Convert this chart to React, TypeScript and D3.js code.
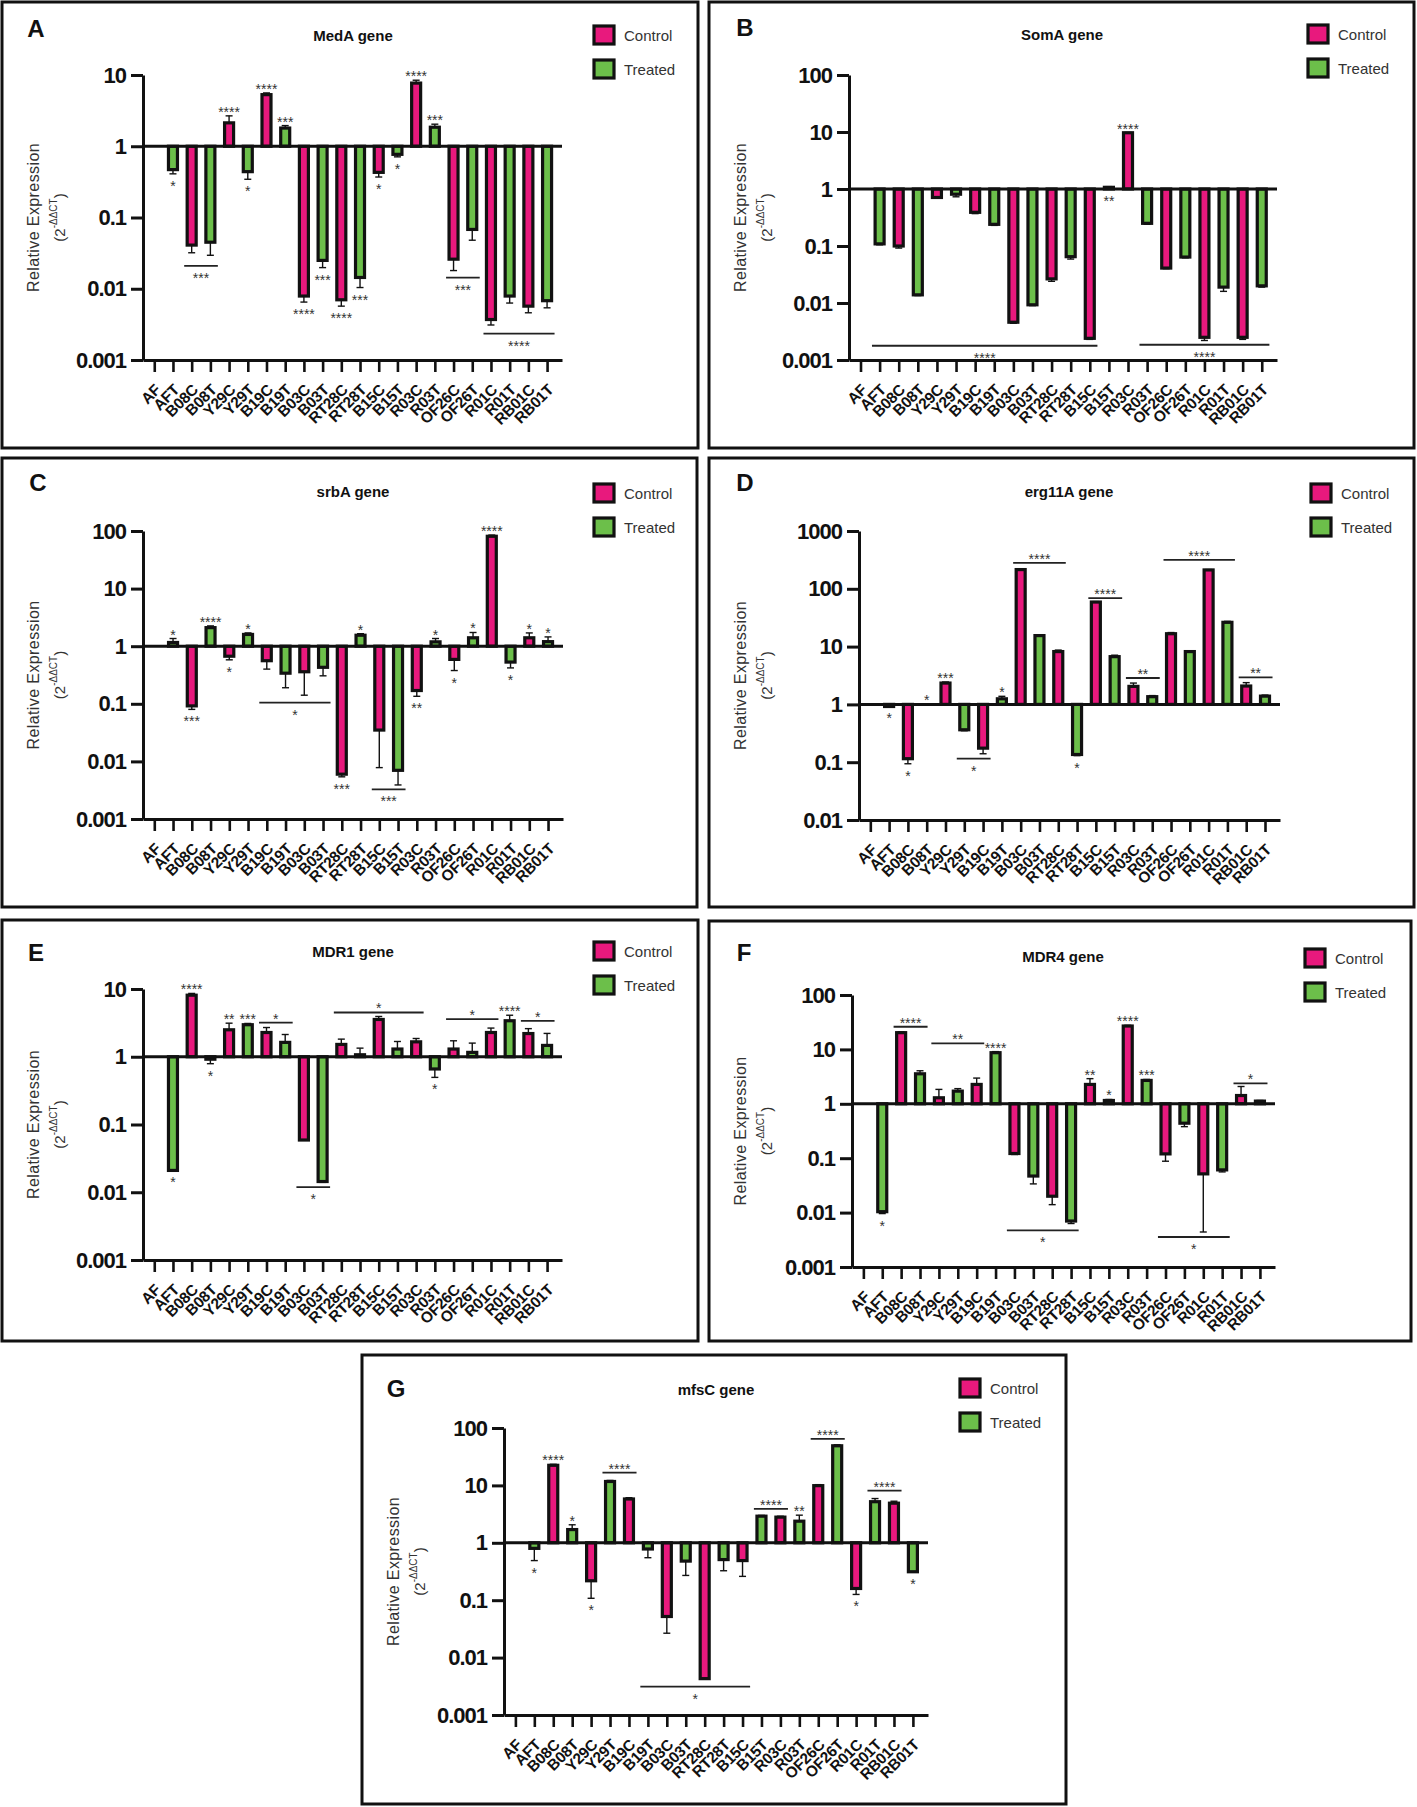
import { useEffect, useRef } from "react"
import * as d3 from "d3"

// strains, C = control, T = treated
const categories = [
  "AF", "AFT", "B08C", "B08T", "Y29C", "Y29T", "B19C", "B19T", "B03C", "B03T", "RT28C",
  "RT28T", "B15C", "B15T", "R03C", "R03T", "OF26C", "OF26T", "R01C", "R01T", "RB01C", "RB01T",
]

// bar value and tip of the error bar (2^-ddCT)
const medaValues = [1, 0.47, 0.041, 0.045, 2.13, 0.44, 5.3, 1.8, 0.0079, 0.025, 0.007, 0.0144, 0.43, 0.77, 7.7, 1.85, 0.026, 0.068, 0.0037, 0.0079, 0.0057, 0.0068]
const medaErrors = [1, 0.41, 0.032, 0.0295, 2.67, 0.344, 5.6, 1.95, 0.0065, 0.0198, 0.0057, 0.0104, 0.37, 0.71, 8.45, 2.04, 0.018, 0.048, 0.0031, 0.0063, 0.0046, 0.0054]

const somaValues = [1, 0.109, 0.1, 0.0139, 0.71, 0.81, 0.39, 0.24, 0.0046, 0.0093, 0.0265, 0.065, 0.0024, 1.07, 9.7, 0.25, 0.041, 0.064, 0.0025, 0.019, 0.0025, 0.02]
const somaErrors = [1, 0.105, 0.092, 0.0135, 0.69, 0.73, 0.37, 0.23, 0.0044, 0.009, 0.024, 0.059, 0.0023, 1.1, 9.8, 0.24, 0.04, 0.062, 0.0022, 0.016, 0.0023, 0.019]

const srbaValues = [1, 1.16, 0.092, 2.1, 0.67, 1.6, 0.56, 0.34, 0.36, 0.43, 0.006, 1.55, 0.035, 0.007, 0.17, 1.19, 0.59, 1.4, 81, 0.53, 1.4, 1.2]
const srbaErrors = [1, 1.36, 0.08, 2.25, 0.58, 1.7, 0.4, 0.19, 0.141, 0.306, 0.0054, 1.65, 0.0078, 0.0039, 0.135, 1.36, 0.378, 1.73, 85, 0.42, 1.7, 1.45]

const erg11aValues = [1, 0.92, 0.115, 1, 2.34, 0.364, 0.175, 1.25, 215, 15.5, 8.2, 0.136, 59, 6.7, 2.05, 1.36, 16.7, 8.2, 212, 26.3, 2.08, 1.39]
const erg11aErrors = [1, 0.92, 0.094, 1, 2.44, 0.35, 0.14, 1.38, 220, 16, 8.7, 0.13, 60, 7.1, 2.34, 1.42, 17.5, 8.5, 215, 27.3, 2.38, 1.45]

const mdr1Values = [1, 0.021, 8.1, 0.92, 2.5, 2.97, 2.28, 1.63, 0.059, 0.0144, 1.52, 1.07, 3.55, 1.3, 1.66, 0.66, 1.3, 1.16, 2.28, 3.4, 2.2, 1.47]
const mdr1Errors = [1, 0.021, 8.6, 0.79, 3.13, 3.1, 2.7, 2.13, 0.059, 0.014, 1.82, 1.34, 3.93, 1.68, 1.86, 0.496, 1.72, 1.59, 2.65, 4.1, 2.6, 2.21]

const mdr4Values = [1, 0.0104, 20.3, 3.56, 1.29, 1.71, 2.27, 8.7, 0.122, 0.047, 0.02, 0.007, 2.27, 1.15, 26.9, 2.69, 0.12, 0.44, 0.0515, 0.061, 1.42, 1.12]
const mdr4Errors = [1, 0.0096, 21, 4.05, 1.84, 1.9, 2.97, 9.1, 0.117, 0.0337, 0.014, 0.0063, 2.9, 1.2, 27.7, 2.8, 0.088, 0.38, 0.0044, 0.056, 2.08, 1.15]

const mfscValues = [1, 0.8, 22.4, 1.7, 0.218, 11.7, 5.8, 0.78, 0.052, 0.48, 0.0043, 0.51, 0.49, 2.91, 2.8, 2.38, 9.9, 49, 0.16, 5.2, 4.9, 0.313]
const mfscErrors = [1, 0.49, 23.3, 2.06, 0.108, 12.2, 6.1, 0.55, 0.0266, 0.27, 0.0043, 0.326, 0.26, 3.0, 2.9, 3.03, 10.3, 51, 0.126, 5.9, 5.3, 0.31]

const ticks3 = [0.001, 0.01, 0.1, 1, 10]
const ticks4 = [0.001, 0.01, 0.1, 1, 10, 100]
const ticksErg = [0.01, 0.1, 1, 10, 100, 1000]

type Mark = { from: string; to?: string; at?: number; label: string; side: "above" | "below" }

const medaMarks: Mark[] = [
  { from: "AFT", label: "*", side: "below" },
  { from: "B08C", to: "B08T", at: 0.021, label: "***", side: "below" },
  { from: "Y29C", label: "****", side: "above" },
  { from: "Y29T", label: "*", side: "below" },
  { from: "B19C", label: "****", side: "above" },
  { from: "B19T", label: "***", side: "above" },
  { from: "B03C", label: "****", side: "below" },
  { from: "B03T", label: "***", side: "below" },
  { from: "RT28C", label: "****", side: "below" },
  { from: "RT28T", label: "***", side: "below" },
  { from: "B15C", label: "*", side: "below" },
  { from: "B15T", label: "*", side: "below" },
  { from: "R03C", label: "****", side: "above" },
  { from: "R03T", label: "***", side: "above" },
  { from: "OF26C", to: "OF26T", at: 0.0143, label: "***", side: "below" },
  { from: "R01C", to: "RB01T", at: 0.00234, label: "****", side: "below" },
]

const somaMarks: Mark[] = [
  { from: "B15T", label: "**", side: "below" },
  { from: "R03C", label: "****", side: "above" },
  { from: "AFT", to: "B15C", at: 0.00178, label: "****", side: "below" },
  { from: "R03T", to: "RB01T", at: 0.00185, label: "****", side: "below" },
]

const srbaMarks: Mark[] = [
  { from: "AFT", label: "*", side: "above" },
  { from: "B08C", label: "***", side: "below" },
  { from: "B08T", label: "****", side: "above" },
  { from: "Y29C", label: "*", side: "below" },
  { from: "Y29T", label: "*", side: "above" },
  { from: "B19C", to: "B03T", at: 0.105, label: "*", side: "below" },
  { from: "RT28C", label: "***", side: "below" },
  { from: "RT28T", label: "*", side: "above" },
  { from: "B15C", to: "B15T", at: 0.00327, label: "***", side: "below" },
  { from: "R03C", label: "**", side: "below" },
  { from: "R03T", label: "*", side: "above" },
  { from: "OF26C", label: "*", side: "below" },
  { from: "OF26T", label: "*", side: "above" },
  { from: "R01C", label: "****", side: "above" },
  { from: "R01T", label: "*", side: "below" },
  { from: "RB01C", label: "*", side: "above" },
  { from: "RB01T", label: "*", side: "above" },
]

const erg11aMarks: Mark[] = [
  { from: "AFT", label: "*", side: "below" },
  { from: "B08C", label: "*", side: "below" },
  { from: "B08T", label: "*", side: "above" },
  { from: "Y29C", label: "***", side: "above" },
  { from: "Y29T", to: "B19C", at: 0.115, label: "*", side: "below" },
  { from: "B19T", label: "*", side: "above" },
  { from: "B03C", to: "RT28C", at: 281, label: "****", side: "above" },
  { from: "RT28T", label: "*", side: "below" },
  { from: "B15C", to: "B15T", at: 69, label: "****", side: "above" },
  { from: "R03C", to: "R03T", at: 2.86, label: "**", side: "above" },
  { from: "OF26C", to: "R01T", at: 316, label: "****", side: "above" },
  { from: "RB01C", to: "RB01T", at: 2.94, label: "**", side: "above" },
]

const mdr1Marks: Mark[] = [
  { from: "AFT", label: "*", side: "below" },
  { from: "B08C", label: "****", side: "above" },
  { from: "B08T", label: "*", side: "below" },
  { from: "Y29C", label: "**", side: "above" },
  { from: "Y29T", label: "***", side: "above" },
  { from: "B19C", to: "B19T", at: 3.2, label: "*", side: "above" },
  { from: "B03C", to: "B03T", at: 0.0119, label: "*", side: "below" },
  { from: "RT28C", to: "R03C", at: 4.5, label: "*", side: "above" },
  { from: "R03T", label: "*", side: "below" },
  { from: "OF26C", to: "R01C", at: 3.59, label: "*", side: "above" },
  { from: "R01T", label: "****", side: "above" },
  { from: "RB01C", to: "RB01T", at: 3.39, label: "*", side: "above" },
]

const mdr4Marks: Mark[] = [
  { from: "AFT", label: "*", side: "below" },
  { from: "B08C", to: "B08T", at: 26.1, label: "****", side: "above" },
  { from: "Y29C", to: "B19C", at: 12.9, label: "**", side: "above" },
  { from: "B19T", label: "****", side: "above" },
  { from: "B03C", to: "RT28T", at: 0.00473, label: "*", side: "below" },
  { from: "B15C", label: "**", side: "above" },
  { from: "B15T", label: "*", side: "above" },
  { from: "R03C", label: "****", side: "above" },
  { from: "R03T", label: "***", side: "above" },
  { from: "OF26C", to: "R01T", at: 0.00356, label: "*", side: "below" },
  { from: "RB01C", to: "RB01T", at: 2.37, label: "*", side: "above" },
]

const mfscMarks: Mark[] = [
  { from: "AFT", label: "*", side: "below" },
  { from: "B08C", label: "****", side: "above" },
  { from: "B08T", label: "*", side: "above" },
  { from: "Y29C", label: "*", side: "below" },
  { from: "Y29T", to: "B19C", at: 16.7, label: "****", side: "above" },
  { from: "B19T", to: "B15C", at: 0.00313, label: "*", side: "below" },
  { from: "B15T", to: "R03C", at: 3.9, label: "****", side: "above" },
  { from: "R03T", label: "**", side: "above" },
  { from: "OF26C", to: "OF26T", at: 64.4, label: "****", side: "above" },
  { from: "R01C", label: "*", side: "below" },
  { from: "R01T", to: "RB01C", at: 8.13, label: "****", side: "above" },
  { from: "RB01T", label: "*", side: "below" },
]

const CONTROL = "#e8197d"
const TREATED = "#6cbf4a"
const FONT = "'Liberation Sans', Arial, sans-serif"

interface PanelSpec {
  letter: string
  title: string
  x: number
  y: number
  width: number
  height: number
  plot: { left: number; right: number; top: number; bottom: number }
  domain: [number, number]
  ticks: number[]
  values: number[]
  errors: number[]
  marks: Mark[]
  legend: [number, number]
  letterPos: [number, number]
  titlePos: [number, number]
}

const panels: PanelSpec[] = [
  {
    letter: "A", title: "MedA gene", x: 2, y: 2, width: 696, height: 446,
    plot: { left: 141, right: 560, top: 73, bottom: 358 }, domain: [0.001, 10], ticks: ticks3,
    values: medaValues, errors: medaErrors, marks: medaMarks,
    legend: [592, 24], letterPos: [34, 26], titlePos: [351, 33],
  },
  {
    letter: "B", title: "SomA gene", x: 709, y: 2, width: 705, height: 446,
    plot: { left: 140, right: 568, top: 73, bottom: 358 }, domain: [0.001, 100], ticks: ticks4,
    values: somaValues, errors: somaErrors, marks: somaMarks,
    legend: [599, 23], letterPos: [36, 25], titlePos: [353, 32],
  },
  {
    letter: "C", title: "srbA gene", x: 2, y: 458, width: 695, height: 449,
    plot: { left: 141, right: 561, top: 73, bottom: 361 }, domain: [0.001, 100], ticks: ticks4,
    values: srbaValues, errors: srbaErrors, marks: srbaMarks,
    legend: [592, 26], letterPos: [36, 24], titlePos: [351, 33],
  },
  {
    letter: "D", title: "erg11A gene", x: 709, y: 458, width: 705, height: 449,
    plot: { left: 150, right: 571, top: 73, bottom: 362 }, domain: [0.01, 1000], ticks: ticksErg,
    values: erg11aValues, errors: erg11aErrors, marks: erg11aMarks,
    legend: [602, 26], letterPos: [36, 24], titlePos: [360, 33],
  },
  {
    letter: "E", title: "MDR1 gene", x: 2, y: 920, width: 696, height: 421,
    plot: { left: 141, right: 560, top: 69, bottom: 340 }, domain: [0.001, 10], ticks: ticks3,
    values: mdr1Values, errors: mdr1Errors, marks: mdr1Marks,
    legend: [592, 22], letterPos: [34, 32], titlePos: [351, 31],
  },
  {
    letter: "F", title: "MDR4 gene", x: 709, y: 921, width: 702, height: 420,
    plot: { left: 143, right: 566, top: 74, bottom: 346 }, domain: [0.001, 100], ticks: ticks4,
    values: mdr4Values, errors: mdr4Errors, marks: mdr4Marks,
    legend: [596, 28], letterPos: [35, 31], titlePos: [354, 35],
  },
  {
    letter: "G", title: "mfsC gene", x: 362, y: 1355, width: 704, height: 449,
    plot: { left: 142, right: 566, top: 73, bottom: 360 }, domain: [0.001, 100], ticks: ticks4,
    values: mfscValues, errors: mfscErrors, marks: mfscMarks,
    legend: [598, 24], letterPos: [34, 33], titlePos: [354, 34],
  },
]

function Panel({ spec }: { spec: PanelSpec }) {
  const gRef = useRef<SVGGElement>(null)

  useEffect(() => {
    if (!gRef.current) return
    const g = d3.select(gRef.current)
    g.selectAll("*").remove()

    const { plot, values, errors } = spec

    // Frame
    g.append("rect")
      .attr("x", 0)
      .attr("y", 0)
      .attr("width", spec.width)
      .attr("height", spec.height)
      .attr("fill", "white")
      .attr("stroke", "#111")
      .attr("stroke-width", 3)

    // Scales
    const x = d3.scalePoint<string>().domain(categories).range([plot.left, plot.right]).padding(0.7).align(0.43)
    const y = d3.scaleLog().domain(spec.domain).range([plot.bottom, plot.top])
    const step = x.step()
    const barW = 9

    const data = categories
      .map((cat, i) => ({ cat, value: values[i], err: errors[i] }))
      .filter((d) => d.value !== 1)

    // Error bars (one-sided, pointing away from 1)
    const errs = g.append("g").attr("stroke", "#111").attr("stroke-width", 1.4)
    data
      .filter((d) => d.err !== d.value)
      .forEach((d) => {
        const cx = x(d.cat)!
        errs.append("line").attr("x1", cx).attr("x2", cx).attr("y1", y(d.value)).attr("y2", y(d.err))
        errs.append("line").attr("x1", cx - 3.5).attr("x2", cx + 3.5).attr("y1", y(d.err)).attr("y2", y(d.err))
      })

    // Bars from the baseline at 1
    g.append("g")
      .selectAll("rect")
      .data(data)
      .enter()
      .append("rect")
      .attr("x", (d) => x(d.cat)! - barW / 2)
      .attr("y", (d) => y(Math.max(d.value, 1)))
      .attr("width", barW)
      .attr("height", (d) => Math.abs(y(d.value) - y(1)))
      .attr("fill", (d) => (d.cat.endsWith("C") ? CONTROL : TREATED))
      .attr("stroke", "#111")
      .attr("stroke-width", 3.2)

    // Baseline at 1
    g.append("line")
      .attr("x1", plot.left)
      .attr("x2", plot.right)
      .attr("y1", y(1))
      .attr("y2", y(1))
      .attr("stroke", "#111")
      .attr("stroke-width", 3)

    // Axes
    const yAxis = d3.axisLeft(y).tickValues(spec.ticks).tickFormat(d3.format("~g")).tickSize(12).tickSizeOuter(0).tickPadding(5)
    const ya = g.append("g").attr("transform", `translate(${plot.left},0)`).call(yAxis)
    ya.select(".domain").attr("stroke", "#111").attr("stroke-width", 3)
    ya.selectAll(".tick line").attr("stroke", "#111").attr("stroke-width", 3)
    ya.selectAll(".tick text")
      .attr("fill", "#111")
      .attr("font-family", FONT)
      .attr("font-weight", "bold")
      .attr("font-size", 22)
      .attr("letter-spacing", -1)

    const xAxis = d3.axisBottom(x).tickSize(12).tickSizeOuter(0)
    const xa = g.append("g").attr("transform", `translate(0,${plot.bottom})`).call(xAxis)
    xa.select(".domain").attr("stroke", "#111").attr("stroke-width", 3)
    xa.selectAll(".tick line").attr("stroke", "#111").attr("stroke-width", 2.6)
    xa.selectAll(".tick text")
      .attr("fill", "#111")
      .attr("font-family", FONT)
      .attr("font-weight", "bold")
      .attr("font-size", 15.5)
      .attr("letter-spacing", -0.3)
      .attr("x", 0)
      .attr("y", 0)
      .attr("dy", "0.35em")
      .attr("text-anchor", "end")
      .attr("transform", "translate(3,27) rotate(-45)")

    // Significance marks
    const starText = (cx: number, cy: number, label: string) =>
      g.append("text")
        .attr("x", cx)
        .attr("y", cy + 8)
        .attr("text-anchor", "middle")
        .attr("font-family", FONT)
        .attr("font-size", 14)
        .attr("fill", "#333")
        .text(label)

    spec.marks.forEach((m) => {
      if (m.to) {
        const x1 = x(m.from)! - 0.4 * step
        const x2 = x(m.to)! + 0.4 * step
        const ly = y(m.at!)
        g.append("line")
          .attr("x1", x1)
          .attr("x2", x2)
          .attr("y1", ly)
          .attr("y2", ly)
          .attr("stroke", "#222")
          .attr("stroke-width", 1.8)
        starText((x1 + x2) / 2, m.side === "above" ? ly - 7 : ly + 9, m.label)
      } else {
        const i = categories.indexOf(m.from)
        const tip = m.side === "above" ? Math.max(values[i], errors[i], 1) : Math.min(values[i], errors[i], 1)
        starText(x(m.from)!, m.side === "above" ? y(tip) - 7 : y(tip) + 9, m.label)
      }
    })

    // Panel letter and title
    g.append("text")
      .attr("x", spec.letterPos[0])
      .attr("y", spec.letterPos[1])
      .attr("text-anchor", "middle")
      .attr("dominant-baseline", "central")
      .attr("font-family", FONT)
      .attr("font-weight", "bold")
      .attr("font-size", 24)
      .attr("fill", "#111")
      .text(spec.letter)

    g.append("text")
      .attr("x", spec.titlePos[0])
      .attr("y", spec.titlePos[1])
      .attr("text-anchor", "middle")
      .attr("dominant-baseline", "central")
      .attr("font-family", FONT)
      .attr("font-weight", "bold")
      .attr("font-size", 15)
      .attr("fill", "#111")
      .text(spec.title)

    // Y label
    const midY = (plot.top + plot.bottom) / 2
    g.append("text")
      .attr("transform", `translate(31,${midY}) rotate(-90)`)
      .attr("text-anchor", "middle")
      .attr("dominant-baseline", "central")
      .attr("font-family", FONT)
      .attr("font-size", 16)
      .attr("letter-spacing", 0.4)
      .attr("fill", "#333")
      .text("Relative Expression")

    const unit = g.append("text")
      .attr("transform", `translate(57,${midY}) rotate(-90)`)
      .attr("text-anchor", "middle")
      .attr("dominant-baseline", "central")
      .attr("font-family", FONT)
      .attr("font-size", 15)
      .attr("fill", "#333")
    unit.append("tspan").text("(2")
    unit.append("tspan").attr("font-size", 10).attr("dy", -6).text("-ΔΔCT")
    unit.append("tspan").attr("dy", 6).text(")")

    // Legend
    const legend = g.append("g").attr("transform", `translate(${spec.legend[0]},${spec.legend[1]})`)
    ;[
      { name: "Control", color: CONTROL },
      { name: "Treated", color: TREATED },
    ].forEach((item, i) => {
      legend.append("rect")
        .attr("x", 0)
        .attr("y", i * 34)
        .attr("width", 20)
        .attr("height", 18)
        .attr("fill", item.color)
        .attr("stroke", "#111")
        .attr("stroke-width", 3.2)
      legend.append("text")
        .attr("x", 30)
        .attr("y", i * 34 + 9)
        .attr("dominant-baseline", "central")
        .attr("font-family", FONT)
        .attr("font-size", 15)
        .attr("fill", "#333")
        .text(item.name)
    })
  }, [spec])

  return <g ref={gRef} transform={`translate(${spec.x},${spec.y})`} />
}

export default function App() {
  return (
    <svg
      width={1417}
      height={1807}
      style={{ position: "absolute", left: 0, top: 0, background: "white" }}
    >
      {panels.map((p) => (
        <Panel key={p.letter} spec={p} />
      ))}
    </svg>
  )
}
